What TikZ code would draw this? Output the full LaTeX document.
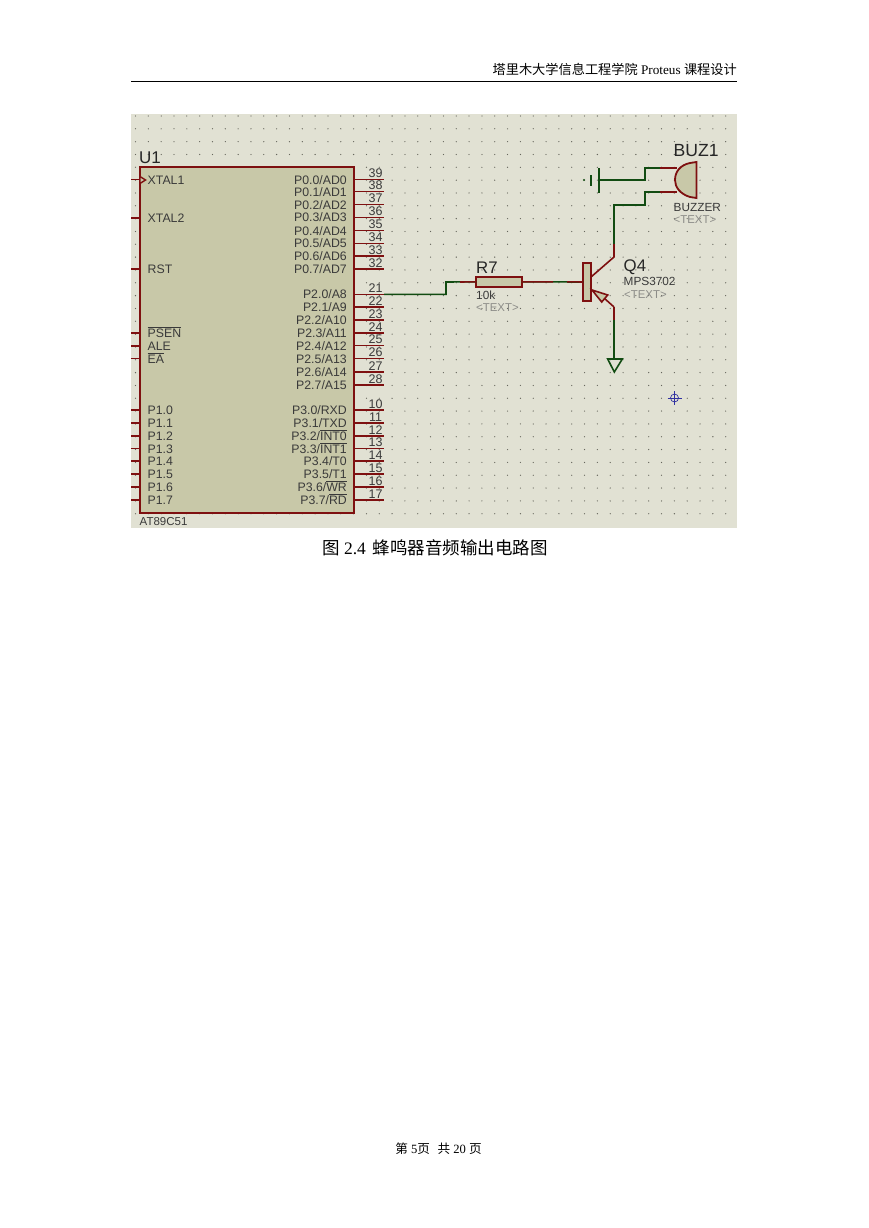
\documentclass[tikz,border=0pt]{standalone}
\usepackage{fontspec}
\setmainfont{Liberation Serif}
\newfontfamily\cjk{Noto Sans CJK SC}
\newfontfamily\lib{Liberation Sans}
\definecolor{panel}{HTML}{E1E1D3}
\definecolor{chipfill}{HTML}{C8C8A8}
\definecolor{pinred}{HTML}{7E1010}
\definecolor{wiregreen}{HTML}{124C12}
\definecolor{labelgrey}{HTML}{3A3A3A}
\definecolor{hiddengrey}{HTML}{8C8C88}
\definecolor{gridgrey}{HTML}{66665C}
\definecolor{markerblue}{HTML}{3030A0}
\newcommand{\ovl}[1]{$\overline{\hbox{#1}}$}
\tikzset{
  x=1pt,y=-1pt,
  body/.style={draw=pinred,fill=chipfill,line width=2pt},
  pinline/.style={draw=pinred,line width=1.4pt},
  wire/.style={draw=wiregreen,line width=1.6pt},
  stub/.style={draw=pinred,line width=1.6pt},
  ll/.style={font=\lib\fontsize{12.3}{13}\selectfont,text=labelgrey,anchor=base west,inner sep=0pt},
  rl/.style={font=\lib\fontsize{12.3}{13}\selectfont,text=labelgrey,anchor=base east,inner sep=0pt},
  pinnum/.style={font=\lib\fontsize{12.5}{13}\selectfont,text=labelgrey,anchor=base,inner sep=0pt},
  refdes/.style={font=\lib\fontsize{17}{18}\selectfont,text=black!85,anchor=base west,inner sep=0pt},
  partval/.style={font=\lib\fontsize{11.8}{12}\selectfont,text=labelgrey,anchor=base west,inner sep=0pt},
  hiddentext/.style={font=\lib\fontsize{11.4}{12}\selectfont,text=hiddengrey,anchor=base west,inner sep=0pt},
  pagetext/.style={inner sep=0pt,text=black}
}
\begin{document}
\begin{tikzpicture}
\useasboundingbox (0,0) rectangle (869,1228);
\fill[white] (0,0) rectangle (869,1228);
% header
\node[pagetext,anchor=base east,font=\fontsize{13.2}{14}\selectfont] (hdr) at (737,75) {{\cjk 塔里木大学信息工程学院} Proteus {\cjk 课程设计}};
\draw[line width=0.8pt] (131,81.5) -- (737,81.5);
% panel and grid
\fill[panel] (131,114) rectangle (737,528);
\foreach \i in {0,...,46} \foreach \j in {0,...,31}
  \fill[gridgrey] ({135.5+12.83*\i},{116+12.83*\j}) circle (0.65pt);
% chip
\node[refdes] (u1) at (139,164) {U1};
\node[body,draw,minimum width=214pt,minimum height=346pt,anchor=north west,inner sep=0pt,outer sep=0pt] (chip) at (139.5,166.5) {};
\node[font=\lib\fontsize{11.5}{12}\selectfont,text=labelgrey,anchor=base west,inner sep=0pt] (partu) at (139.5,525) {AT89C51};
% right pins
\foreach \n/\y/\lab in {39/179.5/P0.0\slash AD0,38/191.7/P0.1\slash AD1,37/204.7/P0.2\slash AD2,36/217.3/P0.3\slash AD3,35/230.5/P0.4\slash AD4,34/243.3/P0.5\slash AD5,33/256/P0.6\slash AD6,32/269/P0.7\slash AD7,
   21/294.3/P2.0\slash A8,22/307/P2.1\slash A9,23/320/P2.2\slash A10,24/333/P2.3\slash A11,25/345.7/P2.4\slash A12,26/358.7/P2.5\slash A13,27/372/P2.6\slash A14,28/385/P2.7\slash A15,
   10/410/P3.0\slash RXD,11/423/P3.1\slash TXD,14/461/P3.4\slash T0,15/474/P3.5\slash T1,17/500/P3.7\slash \ovl{RD}}{
  \coordinate (r\n) at (354,\y);
  \coordinate (e\n) at (384,\y);
  \draw[pinline] (r\n) -- (e\n);
  \node[pinnum] (n\n) at (375.5,\y-2) {\n};
  \node[rl] (t\n) at (347,\y+4.5) {\lab};
}
\foreach \n/\y/\lab in {12/436/P3.2\slash \ovl{INT0},13/448.5/P3.3\slash \ovl{INT1},16/487/P3.6\slash \ovl{WR}}{
  \coordinate (r\n) at (354,\y);
  \coordinate (e\n) at (384,\y);
  \draw[pinline] (r\n) -- (e\n);
  \node[pinnum] (n\n) at (375.5,\y-2) {\n};
  \node[rl] (t\n) at (347,\y+4.5) {\lab};
}
% left pins
\foreach \k/\y/\lab in {x1/179.5/XTAL1,x2/218/XTAL2,rst/269/RST,psen/333/\ovl{PSEN},ale/346/ALE,ea/358.7/\ovl{EA},p0/410/P1.0,p1/423/P1.1,p2/436/P1.2,p3/448.5/P1.3,p4/461/P1.4,p5/474/P1.5,p6/487/P1.6,p7/500/P1.7}{
  \coordinate (l\k) at (131,\y);
  \coordinate (m\k) at (140,\y);
  \draw[pinline] (l\k) -- (m\k);
  \node[ll] (tl\k) at (147.5,\y+4.5) {\lab};
}
\draw[draw=pinred,line width=1.4pt,fill=chipfill] (140,176.5) -- (145.5,180) -- (140,183.5) -- cycle;
% resistor
\node[refdes,font=\lib\fontsize{16.8}{17}\selectfont] (r7l) at (476,273) {R7};
\node[body,draw,minimum width=45.5pt,minimum height=10pt,inner sep=0pt,outer sep=0pt] (r7) at (499.2,281.8) {};
\node[partval] (r7v) at (476,299) {10k};
\node[hiddentext] (r7t) at (476,311.5) {<TEXT>};
% transistor
\node[body,draw,minimum width=7.5pt,minimum height=38pt,inner sep=0pt,outer sep=0pt] (qbar) at (587.2,282) {};
\coordinate (qc) at (614,257);
\coordinate (qe) at (614,307);
\coordinate (qci) at (591,277);
\node[refdes,font=\lib\fontsize{16.8}{17}\selectfont] (q4) at (623.5,271.5) {Q4};
\node[partval] (q4v) at (623.5,285.5) {MPS3702};
\node[hiddentext] (q4t) at (624,298) {<TEXT>};
\coordinate (wa) at (446,294.3);
\coordinate (wb) at (446,282);
\draw[wire] (e21) -- (wa) -- (wb) -- (r7.west);
\draw[stub] (460,282) -- (r7.west);
\draw[wire] (r7.east) -- (qbar.west);
\draw[stub] (r7.east) -- (553,281.8) (567,281.8) -- (qbar.west);
\draw[stub] (qci) -- (qc) -- (614,244);
\draw[wire] (614,244) -- (614,205) -- (645,205) -- (645,192) -- (660,192);
\draw[stub] (660,192) -- (677,192);
\draw[stub] (qe) -- (604,298);
\draw[stub,fill=chipfill] (592,290) -- (607.7,295) -- (601.7,302) -- cycle;
\draw[wire] (614,320) -- (614,360);
\draw[stub] (qe) -- (614,320);
% ground
\coordinate (gl) at (607.7,359);
\coordinate (gr) at (622.3,359);
\coordinate (gt) at (614.3,372);
\draw[wire,line join=miter] (gl) -- (gr) -- (gt) -- cycle;
% battery
\coordinate (bl) at (599,192.5);
\coordinate (bt) at (599,168);
\coordinate (bm) at (599,180);
\draw[wire] (bt) -- (bl);
\draw[wire] (590.7,175) -- (590.7,186);
\fill[wiregreen] (584,180) circle (1.2pt);
\draw[wire] (bm) -- (645,180) -- (645,168) -- (660,168);
\draw[stub] (660,168) -- (677,168);
% buzzer
\draw[body,line width=1.8pt] (696.5,162) -- (696.5,198) -- (690,197) .. controls (680,194) and (675,187) .. (675,180) .. controls (675,172) and (680,165) .. (690,163) -- cycle;
\node[refdes,font=\lib\fontsize{17.6}{18}\selectfont] (buz) at (673.5,157) {BUZ1};
\node[partval] (buzv) at (673.5,211) {BUZZER};
\node[hiddentext] (buzt) at (673.5,223) {<TEXT>};
% origin marker
\coordinate (mk) at (674.5,398);
\draw[markerblue,line width=0.7pt] (mk) circle (4pt);
\draw[markerblue,line width=0.7pt] (667.5,398) -- (681.5,398) (674.5,391) -- (674.5,405);
% caption and footer
\node[pagetext,anchor=base,font=\fontsize{17.5}{19}\selectfont] (cap) at (435,554) {{\cjk 图} 2.4\hspace{0.4em}{\cjk 蜂鸣器音频输出电路图}};
\node[pagetext,anchor=base,font=\fontsize{12.6}{14}\selectfont] (foot) at (438.5,1153) {{\cjk 第} 5{\cjk 页}\hspace{0.6em}{\cjk 共} 20 {\cjk 页}};
\end{tikzpicture}
\end{document}
